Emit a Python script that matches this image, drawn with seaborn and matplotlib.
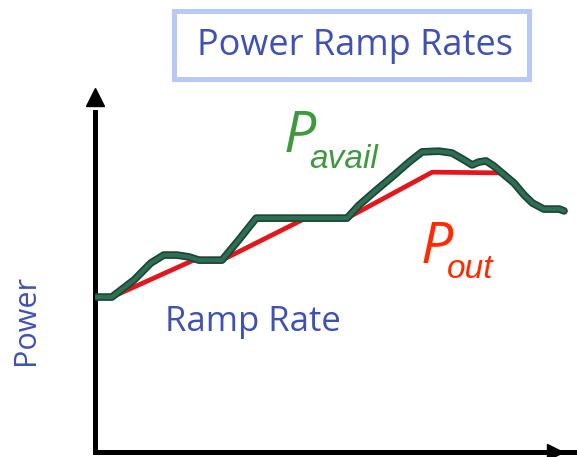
import matplotlib
matplotlib.use("Agg")
import matplotlib.pyplot as plt
import matplotlib.patheffects as pe
from matplotlib.patches import Rectangle
import seaborn as sns
import pandas as pd

# ---- data (time in arbitrary units, power in arbitrary units) ----
avail_t = [0.2, 3.5, 8.1, 11.6, 14.3, 17.0, 19.5, 21.6, 26.4, 29.9, 33.5, 52.4,
           54.9, 58.0, 62.2, 65.3, 68.0, 71.5, 74.2, 76.7, 78.4, 79.8, 81.3,
           82.9, 84.6, 87.1, 89.2, 90.9, 93.3, 96.5, 97.5]
avail_p = [42.8, 42.8, 47.5, 52.2, 54.4, 54.4, 53.9, 53.0, 53.0, 58.6, 64.6, 64.6,
           68.2, 71.8, 76.5, 80.1, 82.9, 83.1, 82.6, 80.7, 79.3, 80.1, 80.4,
           79.0, 77.1, 74.3, 71.0, 68.8, 67.1, 67.1, 66.6]
out_t = [3.5, 21.0, 26.4, 43.5, 52.4, 70.1, 84.6, 86.0]
out_p = [42.8, 53.3, 53.0, 64.4, 64.6, 77.3, 77.1, 75.6]

title = "Power Ramp Rates"
ylabel = "Power"
ramp_label = "Ramp Rate"
sym = "P"
avail_sub = "avail"
out_sub = "out"

df_avail = pd.DataFrame({"t": avail_t, "p": avail_p})
df_out = pd.DataFrame({"t": out_t, "p": out_p})

sns.set_theme(style="white")
plt.rcParams["font.family"] = ["Open Sans", "DejaVu Sans"]

W, H = 577, 457
fig = plt.figure(figsize=(W / 100, H / 100), dpi=100)
fig.patch.set_facecolor("white")

# axes area: x from px 95 to 577, y from px 452 (bottom) to 86 (top)
ax = fig.add_axes([95 / W, (H - 452) / H, (W - 95) / W, (452 - 86) / H])
ax.set_xlim(0, 100.2)
ax.set_ylim(0, 101.1)
ax.set_facecolor("white")

sns.lineplot(data=df_out, x="t", y="p", sort=False, ax=ax, color="#e5161b",
             linewidth=3.4, solid_capstyle="butt", zorder=3)
sns.lineplot(data=df_avail, x="t", y="p", sort=False, ax=ax, color="#2d6f53",
             linewidth=3.0, zorder=4,
             path_effects=[pe.Stroke(linewidth=5.5, foreground="#1d4536"), pe.Normal()])

ax.set_xticks([])
ax.set_yticks([])
ax.set_xlabel("")
ax.set_ylabel("")
for s in ["top", "right"]:
    ax.spines[s].set_visible(False)
for s in ["left", "bottom"]:
    ax.spines[s].set_color("black")
    ax.spines[s].set_linewidth(3.6)
ax.spines["left"].set_bounds(0, 94)

# arrow heads
ax.plot([0], [0.97], marker="^", markersize=13, color="black",
        transform=ax.transAxes, clip_on=False, zorder=5)
ax.plot([0.955], [0.0], marker=">", markersize=12, color="black",
        transform=ax.transAxes, clip_on=False, zorder=5)

# title box
fig.patches.append(Rectangle((174 / W, 1 - 79 / H), (529 - 174) / W, (79 - 11) / H,
                             transform=fig.transFigure, fill=True, facecolor="white",
                             edgecolor="#b9c9f7", linewidth=3.6, zorder=10))
blue = "#3f52b4"
fig.text(355 / W, 1 - 46 / H, title, ha="center", va="center", fontsize=26,
         color=blue, zorder=11)

fig.text(253 / W, 1 - 322 / H, ramp_label, ha="center", va="center", fontsize=25,
         color=blue)
fig.text(26 / W, 1 - 320 / H, ylabel, ha="center", va="center", fontsize=22,
         color=blue, rotation=90)

green = "#3f9a3f"
fig.text(284 / W, 1 - 152 / H, sym, ha="left", va="baseline", fontsize=41,
         color=green, style="italic")
fig.text(309 / W, 1 - 168 / H, avail_sub, ha="left", va="baseline", fontsize=24,
         color=green, style="italic", family=["Liberation Sans", "DejaVu Sans"])

red = "#ff2a00"
fig.text(421 / W, 1 - 263 / H, sym, ha="left", va="baseline", fontsize=41,
         color=red, style="italic")
fig.text(447 / W, 1 - 278 / H, out_sub, ha="left", va="baseline", fontsize=24,
         color=red, style="italic", family=["Liberation Sans", "DejaVu Sans"])

fig.savefig("out.png", dpi=100, facecolor="white")
